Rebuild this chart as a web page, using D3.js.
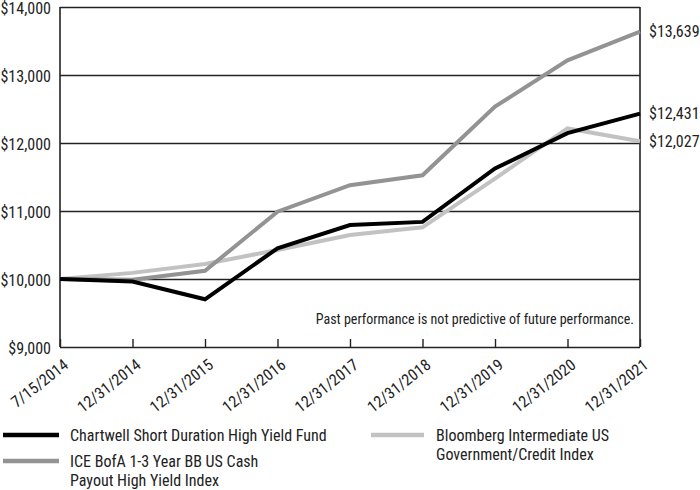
<!DOCTYPE html>
<html><head><meta charset="utf-8">
<script src="https://cdn.jsdelivr.net/npm/d3@7"></script>
<style>
html,body{margin:0;padding:0;background:#fff;}
text{font-family:"Roboto Condensed","Liberation Sans Narrow","Arial Narrow",Roboto,sans-serif;fill:#222;}
</style></head>
<body><svg id="c" width="700" height="490"></svg>
<script>
const dates = ["7/15/2014","12/31/2014","12/31/2015","12/31/2016","12/31/2017","12/31/2018","12/31/2019","12/31/2020","12/31/2021"];
const fund = [10000, 9962, 9702, 10452, 10794, 10840, 11625, 12145, 12431];
const iceIndex = [10000, 9990, 10120, 10990, 11380, 11525, 12535, 13215, 13639];
const bbgIndex = [10000, 10090, 10222, 10426, 10647, 10760, 11475, 12214, 12027];
const yTicks = [9000, 10000, 11000, 12000, 13000, 14000];
const endLabels = ["$12,431", "$13,639", "$12,027"];

const svg = d3.select("#c");
const L = 60, R = 640, T = 7, B = 347;
const x = d3.scalePoint().domain(dates).range([L, R]);
const y = d3.scaleLinear().domain([9000, 14000]).range([B, T]);
const fmt = v => "$" + d3.format(",")(v);

// gridlines + y labels
const ya = svg.append("g").attr("transform", `translate(${L},0)`)
  .call(d3.axisLeft(y).tickValues(yTicks).tickSize(-(R - L)).tickFormat(fmt).tickPadding(9));
ya.select(".domain").remove();
ya.selectAll(".tick line").attr("stroke", "#222").attr("stroke-width", 1.4);
ya.selectAll(".tick text").attr("dy", "0.42em").style("font-size", "16px").attr("fill", "#222");

// x axis
const xa = svg.append("g").attr("transform", `translate(0,${B})`)
  .call(d3.axisBottom(x).tickSize(-8).tickSizeOuter(0));
xa.select(".domain").remove();
xa.selectAll(".tick line").attr("stroke", "#222").attr("stroke-width", 1.4);
xa.selectAll(".tick text").attr("y", 0).attr("dy", 0)
  .attr("text-anchor", "end")
  .attr("transform", "translate(9,20) rotate(-38)")
  .style("font-size", "16px").attr("fill", "#222");

// frame verticals
svg.append("line").attr("x1", L).attr("x2", L).attr("y1", y(14000)).attr("y2", y(9000)).attr("stroke", "#222").attr("stroke-width", 1.6);
svg.append("line").attr("x1", R).attr("x2", R).attr("y1", y(14000)).attr("y2", y(9000)).attr("stroke", "#222").attr("stroke-width", 1.6);

const line = d3.line().x((d, i) => x(dates[i])).y(d => y(d));
const series = [
  {vals: bbgIndex, color: "#c2c2c2", w: 4},
  {vals: iceIndex, color: "#939393", w: 4},
  {vals: fund, color: "#000", w: 4}
];
series.forEach(s => {
  svg.append("path").datum(s.vals).attr("d", line).attr("fill", "none")
    .attr("stroke", s.color).attr("stroke-width", s.w).attr("stroke-linejoin", "miter");
});

// end labels
const endVals = [fund[8], iceIndex[8], bbgIndex[8]];
endVals.forEach((v, i) => {
  svg.append("text").attr("x", R + 9).attr("y", y(v)).attr("dy", "0.35em")
    .style("font-size", "16px").text(endLabels[i]);
});

svg.append("text").attr("x", R - 6).attr("y", 324).attr("text-anchor", "end")
  .style("font-size", "14px").text("Past performance is not predictive of future performance.");

// legend
const leg = [
  {x: 3, y: 435, x2: 59, tx: 70, color: "#000", lines: ["Chartwell Short Duration High Yield Fund"]},
  {x: 3, y: 461, x2: 59, tx: 70, color: "#939393", lines: ["ICE BofA 1-3 Year BB US Cash", "Payout High Yield Index"]},
  {x: 371, y: 435, x2: 424, tx: 436, color: "#c2c2c2", lines: ["Bloomberg Intermediate US", "Government/Credit Index"]}
];
leg.forEach(l => {
  svg.append("line").attr("x1", l.x).attr("x2", l.x2).attr("y1", l.y).attr("y2", l.y)
    .attr("stroke", l.color).attr("stroke-width", 4.5);
  const t = svg.append("text").attr("y", l.y).style("font-size", "16px");
  l.lines.forEach((s, j) => t.append("tspan").attr("x", l.tx).attr("dy", j === 0 ? "0.35em" : "19px").text(s));
});
</script></body></html>
